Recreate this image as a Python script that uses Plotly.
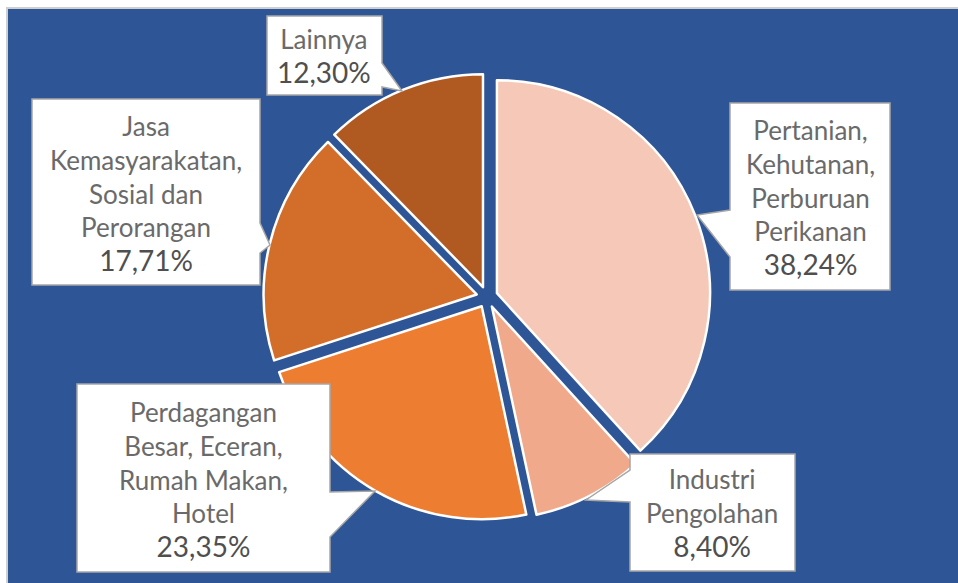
import plotly.graph_objects as go

W, H = 958, 583

categories = [
    "Pertanian, Kehutanan, Perburuan Perikanan",
    "Industri Pengolahan",
    "Perdagangan Besar, Eceran, Rumah Makan, Hotel",
    "Jasa Kemasyarakatan, Sosial dan Perorangan",
    "Lainnya",
]
label_lines = [
    ["Pertanian,", "Kehutanan,", "Perburuan", "Perikanan"],
    ["Industri", "Pengolahan"],
    ["Perdagangan", "Besar, Eceran,", "Rumah Makan,", "Hotel"],
    ["Jasa", "Kemasyarakatan,", "Sosial dan", "Perorangan"],
    ["Lainnya"],
]
values = [38.24, 8.40, 23.35, 17.71, 12.30]
colors = ["#F5C8B7", "#F0A98A", "#ED7D31", "#D36D2A", "#B05A22"]

BG = "#2E5596"
TXT = "#6A6A6A"
PCT = "#4F4F4F"
FONT = "Lato"

# callout geometry (pixels): box + pointer path, text centre
callouts = [
    dict(path="M730,103 H890 V290 H730 V257 L697,215 L730,210 Z", cx=810, cy=197),
    dict(path="M630,454 H795 V571 H630 V502 L586,500 L630,470 Z", cx=712, cy=513),
    dict(path="M77,384 H330 V492 L375,491 L330,537 V572 H77 Z", cx=203, cy=479),
    dict(path="M32,99 H260 V223 L270,245 L260,253 V285 H32 Z", cx=146, cy=193),
    dict(path="M267,16 H382 V63 L402,91 L382,87 V95 H267 Z", cx=324, cy=56),
]

fig = go.Figure()

# pie geometry
cx, cy, r, pull = 487, 297, 213, 0.05
ext = r * (1 + pull)
fig.add_trace(go.Pie(
    labels=categories,
    values=values,
    sort=False,
    direction="clockwise",
    rotation=0,
    pull=[pull] * len(values),
    marker=dict(colors=colors, line=dict(color="white", width=2.5)),
    textinfo="none",
    hoverinfo="label+percent",
    showlegend=False,
    domain=dict(x=[(cx - ext) / W, (cx + ext) / W],
                y=[1 - (cy + ext) / H, 1 - (cy - ext) / H]),
))

shapes = [dict(type="rect", xref="x", yref="y", x0=7, y0=8, x1=W + 5, y1=H + 5,
               fillcolor=BG, line=dict(color="#CFCFCF", width=2), layer="below")]
annotations = []
for c, lines, v in zip(callouts, label_lines, values):
    shapes.append(dict(type="path", xref="x", yref="y", path=c["path"],
                       fillcolor="white", line=dict(color="#A6A6A6", width=1.5),
                       layer="above"))
    pct = f"{v:.2f}%".replace(".", ",")
    text = "<br>".join(lines) + f"<br><span style='font-size:28px;color:{PCT}'>" + pct + "</span>"
    annotations.append(dict(x=c["cx"], y=c["cy"], xref="x", yref="y", text=text,
                            showarrow=False, align="center",
                            font=dict(family=FONT, size=26, color=TXT)))

fig.update_layout(
    width=W, height=H,
    margin=dict(l=0, r=0, t=0, b=0),
    paper_bgcolor="white",
    plot_bgcolor="rgba(0,0,0,0)",
    xaxis=dict(range=[0, W], visible=False, fixedrange=True),
    yaxis=dict(range=[H, 0], visible=False, fixedrange=True),
    shapes=shapes,
    annotations=annotations,
)

fig.write_html(
    "out.html",
    config={"displayModeBar": False},
    post_script="document.body.style.margin='0';document.body.style.overflow='hidden';",
)
